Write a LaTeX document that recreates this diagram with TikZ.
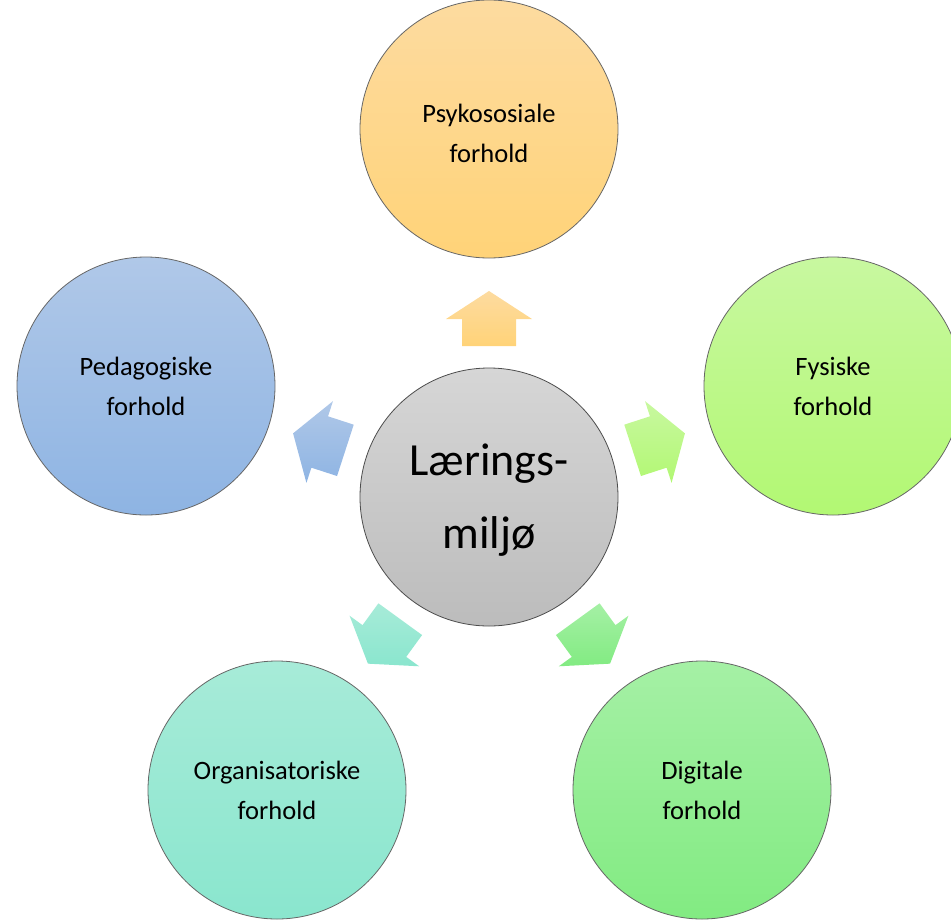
\documentclass[tikz,border=0pt]{standalone}
\usepackage{fontspec}
\setmainfont{Carlito}
\definecolor{orT}{HTML}{FDDBA0}\definecolor{orB}{HTML}{FFD378}
\definecolor{blT}{HTML}{B0C8E8}\definecolor{blB}{HTML}{8EB4E3}
\definecolor{ygT}{HTML}{C8F8A0}\definecolor{ygB}{HTML}{B2F873}
\definecolor{tlT}{HTML}{A7EBD8}\definecolor{tlB}{HTML}{8AE6CE}
\definecolor{gnT}{HTML}{A5F0A5}\definecolor{gnB}{HTML}{82EB82}
\definecolor{gyT}{HTML}{D6D6D6}\definecolor{gyB}{HTML}{BCBCBC}
\newcommand{\topstrut}{\rule{0pt}{28pt}}
\newcommand{\sidetop}{\rule{0pt}{24pt}}
\newcommand{\sidebot}{\rule[-6pt]{0pt}{6pt}}
\newcommand{\hubtop}{\rule{0pt}{39pt}}
\newcommand{\hubbot}{\rule[-10pt]{0pt}{10pt}}
\begin{document}
\begin{tikzpicture}[x=1pt,y=-1pt,
  bubble/.style={circle,minimum size=258pt,inner sep=0pt,draw=black!60,line width=0.8pt,
     align=center,font=\fontsize{26.5}{40}\selectfont},
  hub/.style={bubble,font=\fontsize{46}{73}\selectfont,draw=black!70}]
\useasboundingbox (0,0) rectangle (951,919);
\node[hub,top color=gyT,bottom color=gyB] (c) at (489,497) {\hubtop Lærings-\\miljø\hubbot};
\node[bubble,top color=orT,bottom color=orB] (p) at (489,129) {\topstrut Psykososiale\\forhold};
\node[bubble,top color=ygT,bottom color=ygB] (f) at (833,386) {\sidetop Fysiske\\forhold\sidebot};
\node[bubble,top color=blT,bottom color=blB] (e) at (146,386) {\sidetop Pedagogiske\\forhold\sidebot};
\node[bubble,top color=tlT,bottom color=tlB] (o) at (277,790) {\sidetop Organisatoriske\\forhold\sidebot};
\node[bubble,top color=gnT,bottom color=gnB] (d) at (702,790) {\sidetop Digitale\\forhold\sidebot};
\foreach \ang/\ct/\cb in {90/orT/orB, 18/ygT/ygB, 162/blT/blB, -126/tlT/tlB, -54/gnT/gnB}{
  \begin{scope}[shift={(c.center)},rotate=\ang]
    \path[top color=\ct,bottom color=\cb]
      (151,-27) -- (178,-27) -- (178,-43) -- (206,0) -- (178,43) -- (178,27) -- (151,27) -- cycle;
  \end{scope}
}
\end{tikzpicture}
\end{document}
